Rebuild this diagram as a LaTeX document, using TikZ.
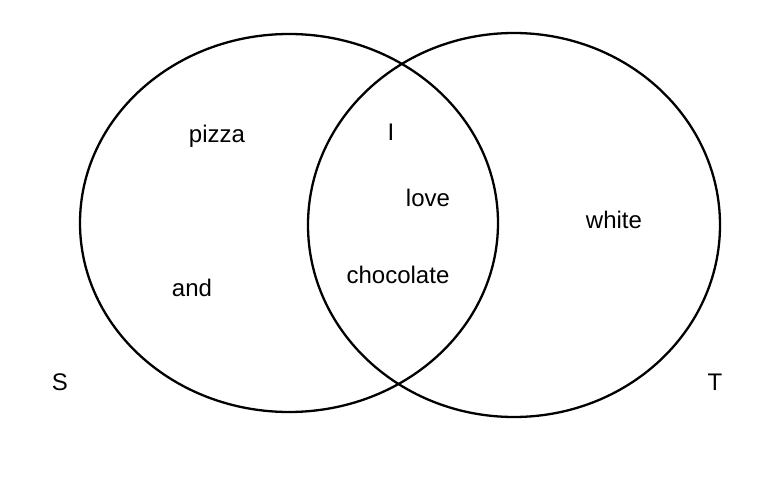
\documentclass[tikz,border=0pt]{standalone}
\usepackage{fontspec}
\setmainfont{Liberation Sans}
\usetikzlibrary{positioning,shapes.geometric}

\begin{document}
\begin{tikzpicture}[
  x=1pt, y=-1pt,
  setring/.style={draw=black, line width=2.3pt, ellipse, inner sep=0pt, outer sep=0pt},
  word/.style={font=\fontsize{24}{28}\selectfont, anchor=base, inner sep=0pt},
  setname/.style={word}
]
\useasboundingbox (0,0) rectangle (776,481);

% -- the two sets --
\node[setring, minimum width=418pt, minimum height=378pt] (setS) at (289,223) {};
\node[setring, minimum width=412pt, minimum height=384pt] (setT) at (514,225) {};

% -- words in S only --
\node[word] (pizza) at (217,143) {pizza};
\node[word] (and) at (192,296) {and};

% -- words in both --
\node[word] (I) at (391,141) {I};
\node[word] (love) at (428,207) {love};
\node[word] (chocolate) at (398,283) {chocolate};

% -- words in T only --
\node[word] (white) at (614,228) {white};

% set names
\node[setname] (nameS) at (60,390) {S};
\node[setname] (nameT) at (715,390) {T};

\end{tikzpicture}
\end{document}
